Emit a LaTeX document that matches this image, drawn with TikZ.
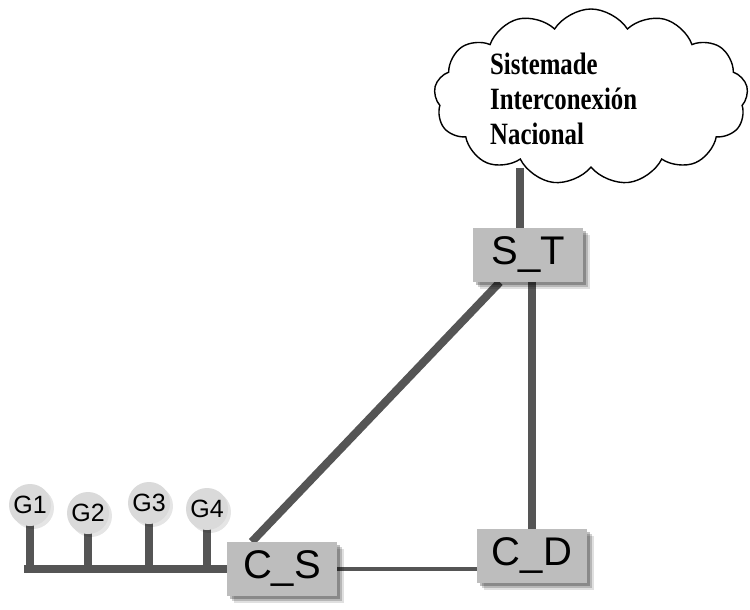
\documentclass[tikz,border=0pt]{standalone}
\usepackage{fontspec}
\setmainfont{Liberation Serif}
\newfontfamily\boxfont{Liberation Sans}
\newfontfamily\cloudfont[FakeStretch=0.8]{Liberation Serif}
\usetikzlibrary{shapes.symbols,shadows,calc,backgrounds}
\definecolor{wire}{HTML}{555555}
\definecolor{boxgray}{HTML}{BDBDBD}
\definecolor{gcirc}{HTML}{DADADA}
\tikzset{
  stationbox/.style={fill=boxgray, minimum width=110pt, minimum height=54pt, inner sep=0pt,
    font=\boxfont\fontsize{40}{44}\selectfont, text=black,
    drop shadow={shadow xshift=7pt, shadow yshift=-7pt, fill=black, opacity=0.12},
    drop shadow={shadow xshift=5pt, shadow yshift=-5pt, fill=black, opacity=0.18},
    drop shadow={shadow xshift=3pt, shadow yshift=-3pt, fill=black, opacity=0.25}},
  gennode/.style={circle, fill=gcirc, minimum size=42pt, inner sep=0pt,
    font=\boxfont\fontsize{25}{28}\selectfont, text=black,
    drop shadow={shadow xshift=3pt, shadow yshift=-3pt, fill=black, opacity=0.10}},
  thickwire/.style={draw=wire, line width=8pt},
  midwire/.style={draw=wire, line width=7.5pt},
  thinwire/.style={draw=wire, line width=4.5pt},
}
\begin{document}
\begin{tikzpicture}[x=1pt,y=-1pt]
\useasboundingbox (0,0) rectangle (750,610);
% cloud
\node[cloud, cloud puffs=13, cloud puff arc=115, aspect=1.75, draw=black, line width=1.4pt, fill=white,
  minimum width=314pt, minimum height=176pt, inner sep=0pt] (cloud) at (591,97) {};
\node[anchor=west, align=left, inner sep=0pt,
  font=\cloudfont\bfseries\fontsize{31}{35}\selectfont] (cloudtext) at (490,99)
  {Sistemade\\Interconexión\\Nacional};
% stations
\node[stationbox] (st) at (528,255) {S\_T};
\node[stationbox] (cs) at (282,569) {C\_S};
\node[stationbox] (cd) at (532,556) {C\_D};
% generators
\node[gennode] (g1) at (30,505) {G1};
\node[gennode] (g2) at (88,513) {G2};
\node[gennode] (g3) at (149,503) {G3};
\node[gennode] (g4) at (207,509) {G4};
\coordinate (busL) at (24,569);
\begin{pgfonlayer}{background}
  \fill[white] (0,0) rectangle (750,610);
  \draw[thickwire] ($(st.north west)+(47,0)$) -- ++(0,-60);
  \draw[thickwire] ($(st.south west)+(27,0)$) -- ($(cs.north west)+(25,0)$);
  \draw[midwire] (st.south -| cd.north) -- (cd.north);
  \draw[thinwire] (cs.east) -- (cs.east -| cd.west);
  \draw[thickwire, line join=miter] (cs.west) -- (busL);
  \draw[thickwire] (busL -| g1.center) ++(0,4) -- ($(g1.south)+(0,-1)$);
  \draw[thickwire] (busL -| g2.center) -- ($(g2.south)+(0,-11)$);
  \draw[thickwire] (busL -| g3.center) -- ($(g3.south)+(0,-2)$);
  \draw[thickwire] (busL -| g4.center) -- ($(g4.south)+(0,-12)$);
\end{pgfonlayer}
\end{tikzpicture}
\end{document}
